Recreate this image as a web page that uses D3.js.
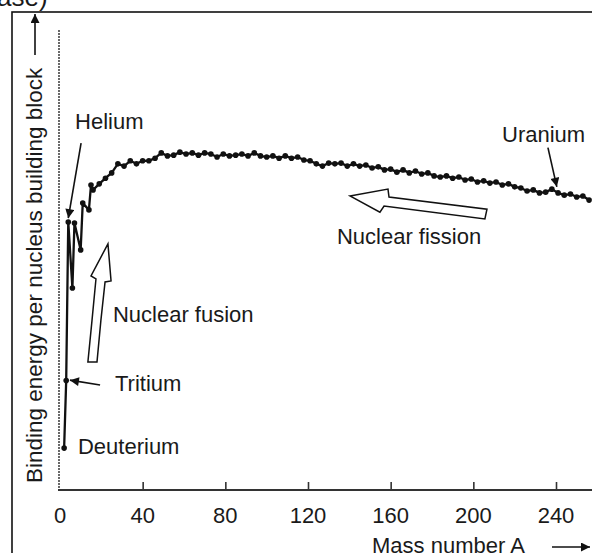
<!DOCTYPE html>
<html>
<head>
<meta charset="utf-8">
<script src="https://cdn.jsdelivr.net/npm/d3@7"></script>
<style>
  html, body { margin: 0; padding: 0; background: #fff; }
  svg { display: block; }
  text { font-family: "Liberation Sans", Arial, Helvetica, sans-serif; fill: #1a1a1a; }
</style>
</head>
<body>
<svg id="chart" width="592" height="553"></svg>
<script>
// ---- data: mass number A and binding energy per nucleon (MeV) ----
const massNumbers = [2, 3, 4, 6, 7, 10, 11, 14, 15, 16, 19, 22, 25, 28, 31, 34, 37, 40, 43, 46, 49, 52, 55, 58, 61, 64, 67, 70, 73, 76, 79, 82, 85, 88, 91, 94, 97, 100, 103, 106, 109, 112, 115, 118, 121, 124, 127, 130, 133, 136, 139, 142, 145, 148, 151, 154, 157, 160, 163, 166, 169, 172, 175, 178, 181, 184, 187, 190, 193, 196, 199, 202, 205, 208, 211, 214, 217, 220, 223, 226, 229, 232, 235, 238, 241, 244, 247, 250, 253, 256];
const bindingEnergy = [1.11, 2.90, 7.10, 5.35, 7.07, 6.36, 7.60, 7.42, 8.08, 7.95, 8.11, 8.26, 8.40, 8.64, 8.58, 8.72, 8.64, 8.72, 8.72, 8.79, 8.93, 8.85, 8.87, 8.95, 8.90, 8.93, 8.87, 8.93, 8.90, 8.82, 8.90, 8.85, 8.87, 8.90, 8.85, 8.93, 8.85, 8.82, 8.85, 8.79, 8.85, 8.79, 8.82, 8.74, 8.72, 8.64, 8.58, 8.66, 8.64, 8.66, 8.58, 8.64, 8.58, 8.61, 8.53, 8.56, 8.48, 8.50, 8.42, 8.48, 8.40, 8.45, 8.37, 8.40, 8.32, 8.29, 8.32, 8.26, 8.29, 8.21, 8.24, 8.16, 8.19, 8.13, 8.16, 8.08, 8.11, 8.03, 8.00, 7.92, 7.95, 7.87, 7.89, 7.97, 7.87, 7.81, 7.84, 7.76, 7.79, 7.68];

const xTickValues = [0, 40, 80, 120, 160, 200, 240];
const xTickLabels = ["0", "40", "80", "120", "160", "200", "240"];

const xAxisTitle = "Mass number A";
const yAxisTitle = "Binding energy per nucleus building block";
const cornerText = "ase)";

// annotation labels: text, A, E (data units)
const labelTexts = ["Helium", "Nuclear fusion", "Tritium", "Deuterium", "Nuclear fission", "Uranium"];
const labelA = [7.3, 25.6, 26.6, 8.7, 134, 213.9];
const labelE = [9.56, 4.45, 2.62, 0.95, 6.52, 9.22];

// thin pointer arrows: [fromA, fromE, toA, toE]
const pointerArrows = [
  [10.2, 9.19, 4.0, 7.20],     // Helium
  [19.4, 2.78, 4.8, 2.91],     // Tritium
  [236.1, 9.07, 240.4, 8.03]   // Uranium
];

// hollow block arrows (outline polygons in data units)
const fusionArrowA = [23.2, 24.7, 21.8, 19.8, 17.9, 13.5, 15.5, 17.4, 15.0];
const fusionArrowE = [6.52, 5.54, 5.51, 4.50, 3.39, 3.39, 4.50, 5.59, 5.67];
const fissionArrowA = [140.3, 158.7, 159.2, 206.6, 205.6, 156.8, 154.8];
const fissionArrowE = [7.79, 7.97, 7.76, 7.44, 7.18, 7.52, 7.36];

// ---- drawing ----
const svg = d3.select("#chart");
const ink = "#111";

const x = d3.scaleLinear().domain([0, 240]).range([60, 556]);
const y = d3.scaleLinear().domain([0, 12]).range([490, 37]);

const defs = svg.append("defs");
defs.append("marker")
  .attr("id", "head")
  .attr("viewBox", "0 0 10 10")
  .attr("refX", 10).attr("refY", 5)
  .attr("markerWidth", 11).attr("markerHeight", 9)
  .attr("markerUnits", "userSpaceOnUse")
  .attr("orient", "auto")
  .append("path").attr("d", "M0,0 L10,5 L0,10 z").attr("fill", ink);

// corner text (cropped at the top, as in the reference)
svg.append("text").attr("x", -3).attr("y", 6)
  .attr("font-size", 26).text(cornerText);

// frame
svg.append("rect").attr("x", 12).attr("y", 12).attr("width", 640).attr("height", 640)
  .attr("fill", "none").attr("stroke", ink).attr("stroke-width", 1.6);

// y axis line
svg.append("line").attr("x1", x(0) - 1).attr("x2", x(0) - 1)
  .attr("y1", 30).attr("y2", y(0))
  .attr("stroke", "#444").attr("stroke-width", 1.6).attr("stroke-dasharray", "2,1");

// x axis
const xAxis = d3.axisBottom(x)
  .tickValues(xTickValues.slice(1))
  .tickSize(-8)
  .tickFormat("");
const xg = svg.append("g").attr("transform", `translate(0,${y(0)})`).call(xAxis);
xg.select(".domain").remove();
xg.selectAll(".tick line").attr("stroke", "#333").attr("stroke-width", 1.6);
svg.append("line").attr("x1", x(0) - 2).attr("x2", 592).attr("y1", y(0)).attr("y2", y(0))
  .attr("stroke", "#333").attr("stroke-width", 2);

svg.selectAll(".xlab").data(xTickValues).enter().append("text")
  .attr("class", "xlab")
  .attr("x", d => x(d)).attr("y", 523)
  .attr("text-anchor", "middle").attr("font-size", 22)
  .text((d, i) => xTickLabels[i]);

// x axis title + arrow
svg.append("text").attr("x", 372).attr("y", 553).attr("font-size", 22).text(xAxisTitle);
svg.append("line").attr("x1", 552).attr("x2", 590).attr("y1", 547).attr("y2", 547)
  .attr("stroke", ink).attr("stroke-width", 1.6).attr("marker-end", "url(#head)");

// y axis title + arrow
svg.append("text")
  .attr("transform", "translate(42,483) rotate(-90)")
  .attr("font-size", 22.5).text(yAxisTitle);
svg.append("line").attr("x1", 35).attr("x2", 35).attr("y1", 55).attr("y2", 14)
  .attr("stroke", ink).attr("stroke-width", 1.6).attr("marker-end", "url(#head)");

// curve
const pts = massNumbers.map((a, i) => [a, bindingEnergy[i]]);
svg.append("path")
  .attr("d", d3.line().x(d => x(d[0])).y(d => y(d[1]))(pts))
  .attr("fill", "none").attr("stroke", ink).attr("stroke-width", 2.3)
  .attr("stroke-linejoin", "round");
svg.selectAll(".dot").data(pts).enter().append("circle")
  .attr("class", "dot")
  .attr("cx", d => x(d[0])).attr("cy", d => y(d[1])).attr("r", 2.8)
  .attr("fill", ink);

// pointer arrows
svg.selectAll(".ptr").data(pointerArrows).enter().append("line")
  .attr("class", "ptr")
  .attr("x1", d => x(d[0])).attr("y1", d => y(d[1]))
  .attr("x2", d => x(d[2])).attr("y2", d => y(d[3]))
  .attr("stroke", ink).attr("stroke-width", 1.6).attr("marker-end", "url(#head)");

// hollow block arrows
function poly(as, es) {
  return d3.line().x(d => x(d[0])).y(d => y(d[1])).curve(d3.curveLinearClosed)(as.map((a, i) => [a, es[i]]));
}
svg.append("path").attr("d", poly(fusionArrowA, fusionArrowE))
  .attr("fill", "#fff").attr("stroke", ink).attr("stroke-width", 1.5).attr("stroke-linejoin", "miter");
svg.append("path").attr("d", poly(fissionArrowA, fissionArrowE))
  .attr("fill", "#fff").attr("stroke", ink).attr("stroke-width", 1.5).attr("stroke-linejoin", "miter");

// labels
svg.selectAll(".lbl").data(labelTexts).enter().append("text")
  .attr("class", "lbl")
  .attr("x", (d, i) => x(labelA[i])).attr("y", (d, i) => y(labelE[i]))
  .attr("font-size", 22).text(d => d);
</script>
</body>
</html>
